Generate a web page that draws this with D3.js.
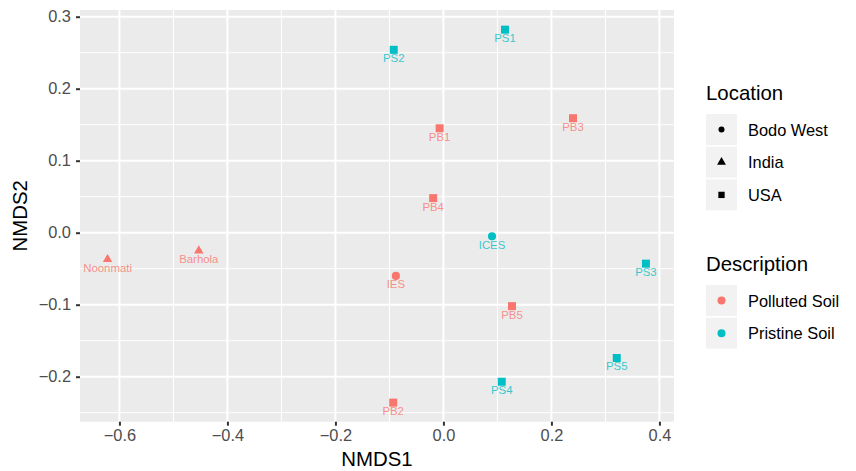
<!DOCTYPE html>
<html lang="en">

<head>
    <meta charset="UTF-8" />
    <title>NMDS</title>
    <style>
        body { margin: 0; background: #fff; }
        svg text { font-family: "Liberation Sans", Arial, sans-serif; }
    </style>
</head>

<body>
    <div id="container"></div>
</body>
<script src="https://cdnjs.cloudflare.com/ajax/libs/d3/7.1.1/d3.min.js"></script>
<script>
    // data
    const samples = ['PS1', 'PS2', 'PB1', 'PB3', 'PB4', 'ICES', 'PS3', 'Noonmati', 'Barhola', 'IES', 'PB5', 'PS5', 'PS4', 'PB2']
    const nmds1 = [0.114, -0.092, -0.007, 0.240, -0.019, 0.090, 0.375, -0.622, -0.453, -0.088, 0.127, 0.321, 0.108, -0.093]
    const nmds2 = [0.282, 0.254, 0.145, 0.159, 0.048, -0.005, -0.043, -0.037, -0.025, -0.060, -0.102, -0.174, -0.207, -0.236]
    const sampleLocation = ['USA', 'USA', 'USA', 'USA', 'USA', 'Bodo West', 'USA', 'India', 'India', 'Bodo West', 'USA', 'USA', 'USA', 'USA']
    const sampleDescription = ['Pristine Soil', 'Pristine Soil', 'Polluted Soil', 'Polluted Soil', 'Polluted Soil', 'Pristine Soil', 'Pristine Soil',
        'Polluted Soil', 'Polluted Soil', 'Polluted Soil', 'Polluted Soil', 'Pristine Soil', 'Pristine Soil', 'Polluted Soil']
    const locLevels = ['Bodo West', 'India', 'USA']
    const descLevels = ['Polluted Soil', 'Pristine Soil']
    const xTicks = [-0.6, -0.4, -0.2, 0.0, 0.2, 0.4]
    const yTicks = [-0.2, -0.1, 0.0, 0.1, 0.2, 0.3]

    const data = samples.map((s, i) => ({ name: s, x: nmds1[i], y: nmds2[i], loc: sampleLocation[i], desc: sampleDescription[i] }))

    let W = 856, H = 471
    let pl = 80, pr = 674, pt = 10, pb = 421.7

    let x = d3.scaleLinear().domain([-0.673, 0.427]).range([pl, pr])
    let y = d3.scaleLinear().domain([-0.2625, 0.3093]).range([pb, pt])
    let color = d3.scaleOrdinal().domain(descLevels).range(['#F8766D', '#00BFC4'])
    let shape = d3.scaleOrdinal().domain(locLevels).range([d3.symbolCircle, d3.symbolTriangle, d3.symbolSquare])
    let shapeSize = { 'Bodo West': 52, 'India': 38, 'USA': 64 }

    let svg = d3.select('#container').append('svg').attr('width', W).attr('height', H)

    // panel
    svg.append('rect').attr('x', pl).attr('y', pt).attr('width', pr - pl).attr('height', pb - pt).attr('fill', '#EBEBEB')

    // minor grid
    let xMinor = d3.range(-0.7, 0.45, 0.2).map(v => +v.toFixed(2)).filter(v => v >= -0.673 && v <= 0.427)
    let yMinor = d3.range(-0.25, 0.31, 0.1).map(v => +v.toFixed(2))
    svg.append('g').selectAll('line').data(xMinor).enter().append('line')
        .attr('x1', d => x(d)).attr('x2', d => x(d)).attr('y1', pt).attr('y2', pb)
        .attr('stroke', '#fff').attr('stroke-width', 1)
    svg.append('g').selectAll('line').data(yMinor).enter().append('line')
        .attr('y1', d => y(d)).attr('y2', d => y(d)).attr('x1', pl).attr('x2', pr)
        .attr('stroke', '#fff').attr('stroke-width', 1)
    // major grid
    svg.append('g').selectAll('line').data(xTicks).enter().append('line')
        .attr('x1', d => x(d)).attr('x2', d => x(d)).attr('y1', pt).attr('y2', pb)
        .attr('stroke', '#fff').attr('stroke-width', 2)
    svg.append('g').selectAll('line').data(yTicks).enter().append('line')
        .attr('y1', d => y(d)).attr('y2', d => y(d)).attr('x1', pl).attr('x2', pr)
        .attr('stroke', '#fff').attr('stroke-width', 2)

    // axes
    let fmt = d3.format('.1f')
    let xAxis = svg.append('g').attr('transform', `translate(0,${pb})`)
        .call(d3.axisBottom(x).tickValues(xTicks).tickFormat(fmt).tickSize(4).tickPadding(4))
    let yAxis = svg.append('g').attr('transform', `translate(${pl},0)`)
        .call(d3.axisLeft(y).tickValues(yTicks).tickFormat(fmt).tickSize(4).tickPadding(5))
    for (let a of [xAxis, yAxis]) {
        a.select('.domain').remove()
        a.selectAll('.tick line').attr('stroke', '#333').attr('stroke-width', 2)
        a.selectAll('.tick text').attr('fill', '#4D4D4D').style('font-size', '16.4px')
            .style('font-family', '"Liberation Sans", Arial, sans-serif')
    }

    svg.append('text').text('NMDS1').attr('x', (pl + pr) / 2).attr('y', 465.7)
        .attr('text-anchor', 'middle').style('font-size', '20.4px').attr('fill', '#000')
    svg.append('text').text('NMDS2').attr('transform', `translate(27,${(pt + pb) / 2}) rotate(-90)`)
        .attr('text-anchor', 'middle').style('font-size', '20.4px').attr('fill', '#000')

    // points
    let sym = d3.symbol()
    svg.append('g').selectAll('path').data(data).enter().append('path')
        .attr('transform', d => `translate(${x(d.x)},${y(d.y)})`)
        .attr('d', d => sym.type(shape(d.loc)).size(shapeSize[d.loc])())
        .attr('fill', d => color(d.desc))

    // labels
    svg.append('g').selectAll('text').data(data).enter().append('text')
        .text(d => d.name)
        .attr('x', d => x(d.x)).attr('y', d => y(d.y) + 12.5)
        .attr('text-anchor', 'middle').style('font-size', '11.4px')
        .attr('fill', d => color(d.desc)).attr('fill-opacity', 0.8)

    // legends
    let lx = 706, key = 31, step = 32.7
    function legend(title, titleY, levels, drawKey) {
        let g = svg.append('g')
        g.append('text').text(title).attr('x', lx).attr('y', titleY).style('font-size', '20.4px').attr('fill', '#000')
        let top = titleY + 14
        let items = g.selectAll('g.item').data(levels).enter().append('g')
            .attr('transform', (d, i) => `translate(${lx},${top + i * step})`)
        items.append('rect').attr('width', key).attr('height', key).attr('fill', '#F2F2F2')
        items.append('path').attr('transform', `translate(${key / 2},${key / 2})`).attr('d', drawKey.d).attr('fill', drawKey.fill)
        items.append('text').text(d => d).attr('x', 42).attr('y', key / 2 + 6)
            .style('font-size', '16.4px').attr('fill', '#000')
    }
    let keySize = { 'Bodo West': 28, 'India': 34, 'USA': 40 }
    legend('Location', 100, locLevels, {
        d: d => sym.type(shape(d)).size(keySize[d])(),
        fill: '#000'
    })
    legend('Description', 271, descLevels, {
        d: d => sym.type(d3.symbolCircle).size(50)(),
        fill: d => color(d)
    })
</script>

</html>
